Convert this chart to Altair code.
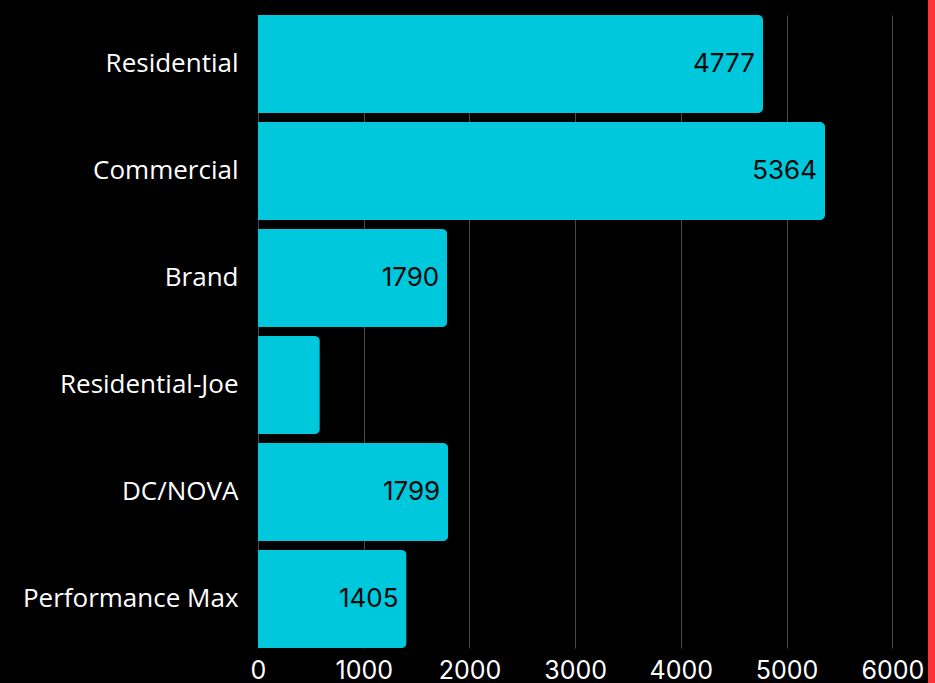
import altair as alt
import pandas as pd

categories = ["Residential", "Commercial", "Brand", "Residential-Joe", "DC/NOVA", "Performance Max"]
values = [4777, 5364, 1790, 585, 1799, 1405]
x_ticks = [0, 1000, 2000, 3000, 4000, 5000, 6000]

df = pd.DataFrame({"category": categories, "value": values})

W, H = 666, 633

x = alt.X("value:Q",
          scale=alt.Scale(domain=[0, 6300], nice=False),
          axis=alt.Axis(values=x_ticks, format="d", title=None, domain=False, ticks=False,
                        grid=True, gridColor="#4a4a4a", gridWidth=1,
                        labelColor="#ffffff", labelFontSize=25, labelFont="Inter",
                        labelPadding=10, labelFlush=False))
y = alt.Y("category:N", sort=categories,
          scale=alt.Scale(paddingInner=0.084, paddingOuter=0),
          axis=alt.Axis(title=None, domain=False, ticks=False, grid=False,
                        labelColor="#ffffff", labelFontSize=26, labelFont="Open Sans",
                        labelPadding=20, labelLimit=300))

bars = alt.Chart(df).mark_bar(color="#00C8DC", cornerRadiusEnd=5).encode(x=x, y=y)

text = alt.Chart(df).transform_filter(alt.datum.value > 1000).mark_text(
    align="right", baseline="middle", dx=-8, fontSize=26, font="Inter", color="#0a0a0a"
).encode(x=alt.X("value:Q"), y=alt.Y("category:N", sort=categories), text=alt.Text("value:Q", format="d"))

red = alt.Chart(df).mark_rule(color="#FF3333", strokeWidth=7).encode(
    x=alt.value(673.5), y=alt.value(-20), y2=alt.value(H + 40))

chart = alt.layer(bars, text, red).properties(
    width=W, height=H, background="#000000",
    autosize=alt.AutoSizeParams(type="none"),
    padding={"left": 258, "top": 15, "right": 11, "bottom": 35},
).configure_view(stroke=None)

chart.save("out.html", embed_options={"renderer": "svg", "actions": False})
